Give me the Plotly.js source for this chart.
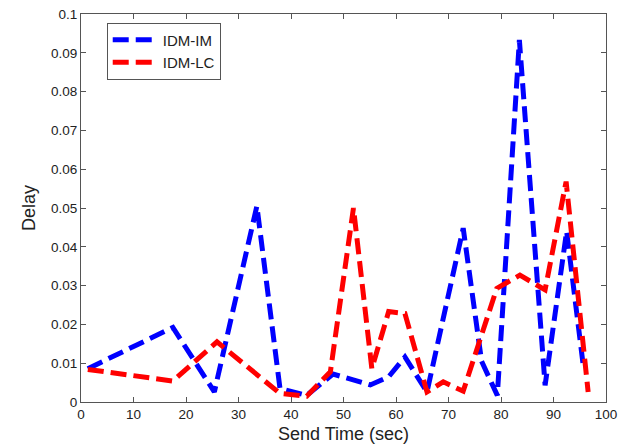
<!DOCTYPE html>
<html>
<head>
<meta charset="utf-8">
<script src="https://cdn.plot.ly/plotly-3.0.1.min.js"></script>
<style>html,body{margin:0;padding:0;background:#fff;}#chart{width:635px;height:447px;}</style>
</head>
<body>
<div id="chart"></div>
<script>
const imTime = [1.3, 17.5, 25.4, 33.5, 37.9, 43.0, 48.0, 55.1, 58.6, 61.7, 65.9, 72.8, 76.3, 79.3, 83.5, 88.4, 92.5, 95.7];
const imDelay = [0.0086, 0.0192, 0.0026, 0.0505, 0.0035, 0.0017, 0.0072, 0.0044, 0.0065, 0.0116, 0.0026, 0.0448, 0.0105, 0.0017, 0.0933, 0.0043, 0.0440, 0.0090];
const lcTime = [1.3, 17.5, 25.9, 37.9, 43.0, 47.5, 51.9, 55.4, 58.6, 61.7, 65.9, 69.0, 72.8, 79.2, 83.6, 88.4, 92.4, 96.6];
const lcDelay = [0.0084, 0.0054, 0.0155, 0.0022, 0.0015, 0.0078, 0.0500, 0.0086, 0.0233, 0.0228, 0.0026, 0.0052, 0.0028, 0.0293, 0.0327, 0.0289, 0.0568, 0.0026];
const seriesNames = ['IDM-IM', 'IDM-LC'];
const xTicks = [0,10,20,30,40,50,60,70,80,90,100];
const yTicks = [0,0.01,0.02,0.03,0.04,0.05,0.06,0.07,0.08,0.09,0.1];
const yTickText = ['0','0.01','0.02','0.03','0.04','0.05','0.06','0.07','0.08','0.09','0.1'];

const dashStyle = '16px,7px';
const traces = [
  {x: imTime, y: imDelay, name: seriesNames[0], mode: 'lines', line: {color: '#0000ff', width: 5, dash: dashStyle}},
  {x: lcTime, y: lcDelay, name: seriesNames[1], mode: 'lines', line: {color: '#ff0000', width: 5, dash: dashStyle}}
];
const fam = 'Liberation Sans, Arial, sans-serif';
const axCommon = {
  showgrid: false, zeroline: false, showline: true, mirror: 'ticks',
  linecolor: '#555', linewidth: 1, ticks: 'inside', ticklen: 5, tickcolor: '#555',
  tickfont: {family: fam, size: 13.5, color: '#222'}
};
const layout = {
  width: 635, height: 447,
  margin: {l: 81, r: 29, t: 14, b: 45},
  paper_bgcolor: '#fff', plot_bgcolor: '#fff',
  showlegend: true,
  legend: {x: 0.049, y: 0.978, xanchor: 'left', yanchor: 'top', bgcolor: '#fff', bordercolor: '#555', borderwidth: 1,
           font: {family: fam, size: 15, color: '#222'}, tracegroupgap: 0, itemwidth: 45},
  xaxis: Object.assign({}, axCommon, {range: [0, 100], tickvals: xTicks, ticktext: xTicks.map(String),
    title: {text: 'Send Time (sec)', font: {family: fam, size: 18, color: '#222'}, standoff: 6}}),
  yaxis: Object.assign({}, axCommon, {range: [0, 0.1], tickvals: yTicks, ticktext: yTickText,
    title: {text: 'Delay', font: {family: fam, size: 18, color: '#222'}, standoff: 10}})
};
Plotly.newPlot('chart', traces, layout, {displayModeBar: false, staticPlot: true});
</script>
</body>
</html>
